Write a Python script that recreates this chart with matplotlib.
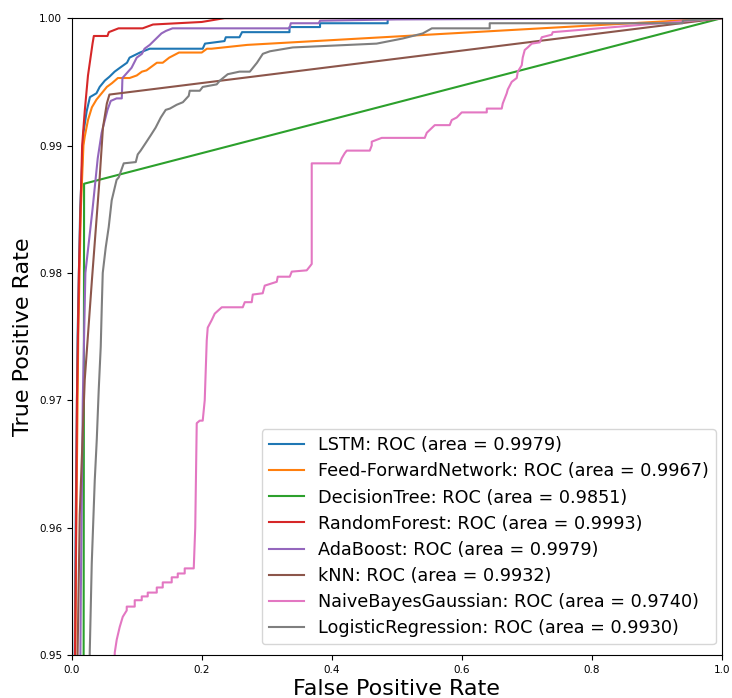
### Script description ###
# ROC curves of the eight classifiers, zoomed in on the upper left corner
### Packages ###
import matplotlib
matplotlib.use('Agg')
import matplotlib.pyplot as plt

##### data (fpr, tpr) #####
labels = ['LSTM', 'Feed-ForwardNetwork', 'DecisionTree', 'RandomForest',
          'AdaBoost', 'kNN', 'NaiveBayesGaussian', 'LogisticRegression']
areas = [0.9979, 0.9967, 0.9851, 0.9993, 0.9979, 0.9932, 0.9740, 0.9930]

fpr_lstm = [0.003, 0.006, 0.009, 0.013, 0.018, 0.023, 0.028, 0.038, 0.043, 0.051, 0.058, 0.066,
            0.074, 0.085, 0.089, 0.105, 0.12, 0.2015, 0.205, 0.235, 0.237, 0.258, 0.262, 0.335,
            0.335, 0.382, 0.382, 0.486, 0.486, 1.0]
tpr_lstm = [0.94, 0.96, 0.975, 0.985, 0.991, 0.9927, 0.9938, 0.9941, 0.9946, 0.9951, 0.9954, 0.9958,
            0.9961, 0.9965, 0.9969, 0.9973, 0.9976, 0.9976, 0.9980, 0.9982, 0.9985, 0.9985, 0.9989, 0.9989,
            0.9993, 0.9993, 0.9996, 0.9996, 1.0, 1.0]

fpr_ffn = [0.004, 0.007, 0.010, 0.014, 0.018, 0.020, 0.025, 0.031, 0.038, 0.046, 0.054, 0.062,
           0.071, 0.089, 0.100, 0.108, 0.115, 0.123, 0.131, 0.140, 0.150, 0.165, 0.200, 0.208,
           0.215, 0.270, 1.0]
tpr_ffn = [0.94, 0.96, 0.975, 0.985, 0.990, 0.9907, 0.9920, 0.9930, 0.9936, 0.9941, 0.9946, 0.9949,
           0.9953, 0.9953, 0.9955, 0.9958, 0.9959, 0.9962, 0.9965, 0.9965, 0.9969, 0.9973, 0.9973, 0.9976,
           0.9976, 0.9979, 1.0]

fpr_tree = [0.0, 0.019, 1.0]
tpr_tree = [0.0, 0.9870, 1.0]

fpr_forest = [0.003, 0.006, 0.008, 0.011, 0.016, 0.020, 0.025, 0.032, 0.034, 0.055, 0.057, 0.072,
              0.109, 0.125, 0.20, 0.235, 1.0]
tpr_forest = [0.94, 0.955, 0.970, 0.980, 0.990, 0.9927, 0.9955, 0.9980, 0.9986, 0.9986, 0.9989, 0.9992,
              0.9992, 0.9995, 0.9997, 1.0, 1.0]

fpr_ada = [0.012, 0.014, 0.017, 0.021, 0.032, 0.040, 0.046, 0.055, 0.060, 0.069, 0.077, 0.078,
           0.085, 0.092, 0.100, 0.108, 0.112, 0.120, 0.130, 0.138, 0.145, 0.155, 0.335, 0.337,
           0.380, 0.382, 0.50, 1.0]
tpr_ada = [0.94, 0.955, 0.970, 0.980, 0.985, 0.989, 0.991, 0.9928, 0.9935, 0.9937, 0.9937, 0.9953,
           0.9957, 0.9961, 0.9969, 0.9972, 0.9976, 0.9979, 0.9984, 0.9988, 0.9990, 0.9992, 0.9992, 0.9996,
           0.9996, 0.9998, 0.9999, 1.0]

fpr_knn = [0.006, 0.009, 0.0123, 0.020, 0.031, 0.043, 0.048, 0.054, 0.058, 1.0]
tpr_knn = [0.94, 0.95, 0.961, 0.9716, 0.9794, 0.9875, 0.9914, 0.9933, 0.9940, 1.0]

fpr_nb = [0.064, 0.0662, 0.0692, 0.0738, 0.0785, 0.0846, 0.0846, 0.0969, 0.0969, 0.1077, 0.1077, 0.1169,
          0.1169, 0.1308, 0.1308, 0.14, 0.14, 0.1538, 0.1538, 0.1631, 0.1631, 0.1738, 0.1738, 0.1877,
          0.19, 0.1923, 0.1969, 0.2015, 0.2046, 0.2077, 0.2092, 0.2154, 0.22, 0.2308, 0.2631, 0.2662,
          0.2769, 0.2785, 0.2938, 0.2969, 0.3154, 0.3169, 0.3354, 0.3385, 0.3615, 0.3662, 0.3692, 0.3692,
          0.4123, 0.4154, 0.42, 0.4231, 0.4585, 0.4615, 0.4615, 0.4769, 0.5431, 0.5462, 0.5585, 0.5815,
          0.5846, 0.5923, 0.60, 0.6385, 0.6385, 0.6615, 0.6631, 0.6692, 0.6708, 0.6769, 0.6846, 0.6862,
          0.6923, 0.6938, 0.6969, 0.7015, 0.7077, 0.72, 0.7231, 0.7385, 0.74, 1.0]
tpr_nb = [0.945, 0.9502, 0.9512, 0.9522, 0.9530, 0.9535, 0.9538, 0.9538, 0.9543, 0.9543, 0.9546, 0.9546,
          0.9549, 0.9549, 0.9553, 0.9553, 0.9557, 0.9557, 0.9561, 0.9561, 0.9564, 0.9564, 0.9568, 0.9568,
          0.9600, 0.9682, 0.9684, 0.9684, 0.9700, 0.9747, 0.9757, 0.9763, 0.9768, 0.9773, 0.9773, 0.9777,
          0.9777, 0.9783, 0.9784, 0.9790, 0.9793, 0.9797, 0.9797, 0.9801, 0.9802, 0.9805, 0.9807, 0.9886,
          0.9886, 0.9890, 0.9894, 0.9896, 0.9896, 0.9900, 0.9903, 0.9906, 0.9906, 0.9910, 0.9916, 0.9916,
          0.9920, 0.9922, 0.9926, 0.9926, 0.9929, 0.9929, 0.9933, 0.9941, 0.9944, 0.9950, 0.9953, 0.9958,
          0.9963, 0.9969, 0.9975, 0.9977, 0.9980, 0.9981, 0.9985, 0.9987, 0.9989, 1.0]

fpr_logreg = [0.026, 0.0277, 0.0308, 0.0354, 0.0385, 0.0415, 0.0446, 0.0462, 0.0477, 0.0523, 0.0569, 0.0615,
              0.069, 0.0723, 0.080, 0.0985, 0.1015, 0.106, 0.1138, 0.1215, 0.129, 0.137, 0.1446, 0.151,
              0.1615, 0.171, 0.180, 0.1815, 0.197, 0.2015, 0.223, 0.228, 0.240, 0.258, 0.274, 0.285,
              0.294, 0.305, 0.340, 0.469, 0.509, 0.540, 0.554, 0.643, 0.643, 0.940, 0.940, 1.0]
tpr_logreg = [0.94, 0.9502, 0.9572, 0.9637, 0.9669, 0.9708, 0.9742, 0.9773, 0.9800, 0.9820, 0.9836, 0.9857,
              0.9873, 0.9875, 0.9886, 0.9887, 0.9893, 0.9896, 0.9902, 0.9908, 0.9914, 0.9922, 0.9928, 0.9929,
              0.9932, 0.9934, 0.9939, 0.9943, 0.9943, 0.9946, 0.9948, 0.9951, 0.9956, 0.9958, 0.9958, 0.9965,
              0.9972, 0.9974, 0.9977, 0.9980, 0.9984, 0.9988, 0.9992, 0.9992, 0.9996, 0.9996, 0.9998, 1.0]

fprs = [fpr_lstm, fpr_ffn, fpr_tree, fpr_forest, fpr_ada, fpr_knn, fpr_nb, fpr_logreg]
tprs = [tpr_lstm, tpr_ffn, tpr_tree, tpr_forest, tpr_ada, tpr_knn, tpr_nb, tpr_logreg]

xticks = [0.0, 0.2, 0.4, 0.6, 0.8, 1.0]
yticks = [0.95, 0.96, 0.97, 0.98, 0.99, 1.00]

##### Plot the stuff ######
fig = plt.figure(figsize=(7.32, 6.98), dpi=100)
ax = fig.add_axes([0.098, 0.0616, 0.888, 0.9124])

for fpr, tpr, name, area in zip(fprs, tprs, labels, areas):
    ax.plot(fpr, tpr, lw=1.5, label='%s: ROC (area = %0.4f)' % (name, area))

ax.set_xlim(0.0, 1.0)
ax.set_ylim(0.95, 1.00)
ax.set_xticks(xticks)
ax.set_yticks(yticks)
ax.set_xticklabels(['%.1f' % t for t in xticks])
ax.set_yticklabels(['%.2f' % t for t in yticks])
ax.tick_params(axis='both', labelsize=7.5)
ax.set_xlabel('False Positive Rate', fontsize=16, labelpad=3)
ax.set_ylabel('True Positive Rate', fontsize=16)
ax.legend(loc='lower right', bbox_to_anchor=(0.991, 0.017), borderaxespad=0,
          fontsize=12.7, labelspacing=0.46)

fig.savefig('out.png', dpi=100)
